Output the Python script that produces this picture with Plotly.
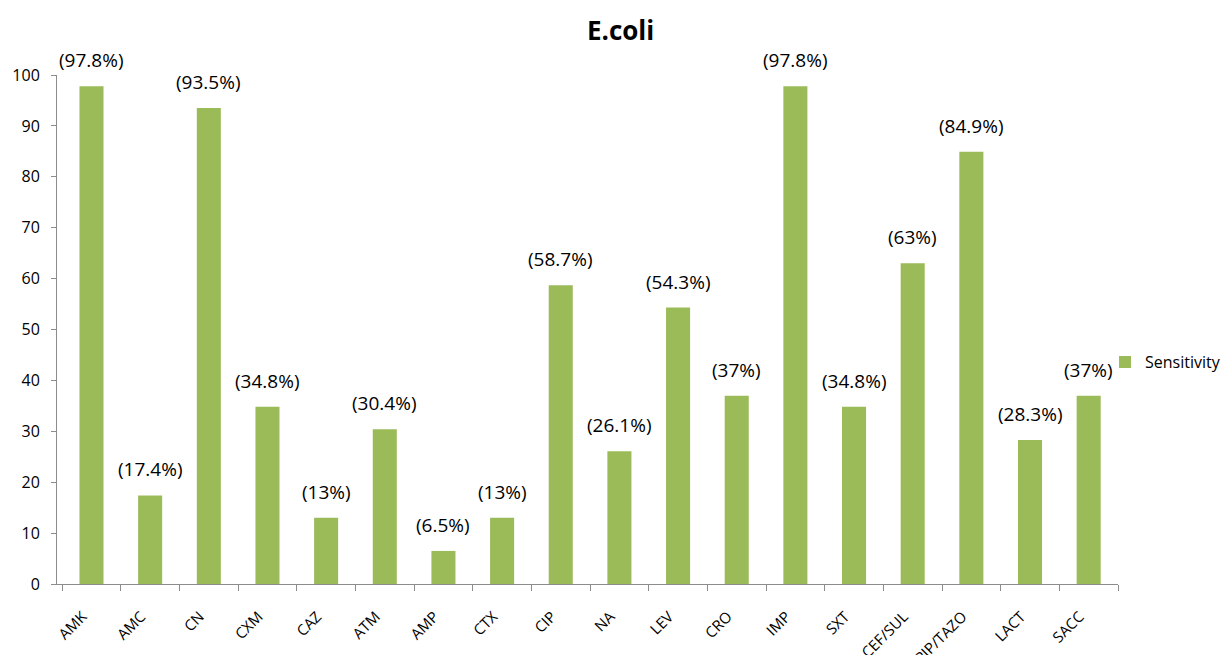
import plotly.graph_objects as go

# Antibiotic sensitivity of E. coli isolates (%)
antibiotics = ["AMK", "AMC", "CN", "CXM", "CAZ", "ATM", "AMP", "CTX", "CIP",
               "NA", "LEV", "CRO", "IMP", "SXT", "CEF/SUL", "PIP/TAZO", "LACT", "SACC"]
sensitivity = [97.8, 17.4, 93.5, 34.8, 13, 30.4, 6.5, 13, 58.7,
               26.1, 54.3, 37, 97.8, 34.8, 63, 84.9, 28.3, 37]
y_ticks = [0, 10, 20, 30, 40, 50, 60, 70, 80, 90, 100]

FONT = "Open Sans"
TEXT_COLOR = "#000000"
BAR_COLOR = "#9BBB59"
AXIS_COLOR = "#8C8C8C"

fig = go.Figure()
fig.add_trace(go.Bar(
    x=antibiotics,
    y=sensitivity,
    name="Sensitivity",
    marker=dict(color=BAR_COLOR, line=dict(width=0)),
    showlegend=True,
))

# value labels in parentheses above each bar
for name, val in zip(antibiotics, sensitivity):
    fig.add_annotation(
        x=name, y=val, xref="x", yref="y",
        text=f"({val:g}%)",
        showarrow=False,
        yanchor="bottom",
        yshift=11,
        font=dict(family=FONT, size=19, color=TEXT_COLOR),
    )

fig.update_layout(
    width=1224,
    height=655,
    margin=dict(l=57, r=106, t=75, b=71, autoexpand=False),
    paper_bgcolor="white",
    plot_bgcolor="white",
    bargap=0.59,
    title=dict(
        text="<b>E.coli</b>",
        x=0.507, xanchor="center",
        y=0.953, yanchor="middle",
        font=dict(family=FONT, size=26, color=TEXT_COLOR),
    ),
    legend=dict(
        xref="container", x=0.9028, xanchor="left",
        yref="container", y=0.447, yanchor="middle",
        font=dict(family=FONT, size=16, color=TEXT_COLOR),
        itemwidth=30,
        bgcolor="rgba(0,0,0,0)",
    ),
    xaxis=dict(
        type="category",
        automargin=False,
        showline=True,
        linecolor=AXIS_COLOR,
        linewidth=1,
        ticks="outside",
        tickson="boundaries",
        ticklen=6,
        tickcolor=AXIS_COLOR,
        tickangle=-45,
        ticklabelstandoff=17,
        ticklabelshift=-9,
        tickfont=dict(family=FONT, size=15, color=TEXT_COLOR),
        showgrid=False,
        zeroline=False,
    ),
    yaxis=dict(
        range=[0, 100],
        automargin=False,
        tickvals=y_ticks,
        showline=True,
        linecolor=AXIS_COLOR,
        linewidth=1,
        ticks="outside",
        ticklen=5,
        tickcolor=AXIS_COLOR,
        ticklabelstandoff=8,
        tickfont=dict(family=FONT, size=16, color=TEXT_COLOR),
        showgrid=False,
        zeroline=False,
    ),
)

fig.write_html("out.html")
